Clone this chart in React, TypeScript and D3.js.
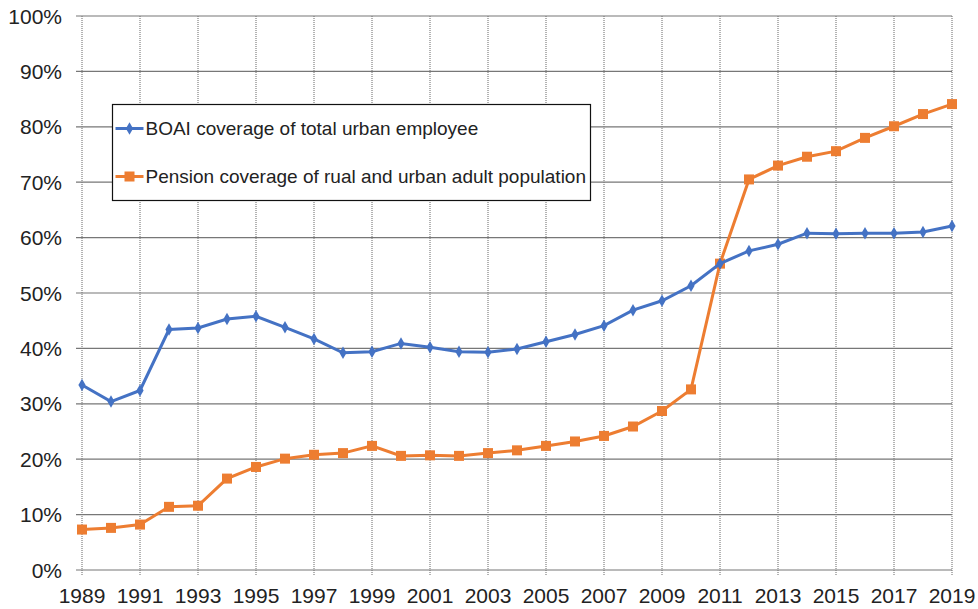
import React, { useEffect, useRef } from 'react';
import * as d3 from 'd3';

const years = d3.range(1989, 2020);
const boaiValues = [33.4, 30.4, 32.4, 43.4, 43.7, 45.3, 45.8, 43.8, 41.7, 39.2, 39.4, 40.9, 40.2, 39.4, 39.3, 39.9, 41.2, 42.5, 44.1, 46.9, 48.6, 51.3, 55.3, 57.6, 58.8, 60.8, 60.7, 60.8, 60.8, 61.0, 62.1];
const pensionValues = [7.3, 7.6, 8.2, 11.4, 11.6, 16.5, 18.6, 20.1, 20.8, 21.1, 22.4, 20.6, 20.7, 20.6, 21.1, 21.6, 22.4, 23.2, 24.2, 25.9, 28.7, 32.6, 55.3, 70.5, 73.0, 74.6, 75.6, 78.0, 80.1, 82.3, 84.1];
const yTicks = [0, 10, 20, 30, 40, 50, 60, 70, 80, 90, 100];
const xTicks = d3.range(1989, 2020, 2);
const seriesLabels = ['BOAI coverage of total urban employee', 'Pension coverage of rual and urban adult population'];

const BLUE = '#4472C4';
const ORANGE = '#ED7D31';
const FONT = '"Liberation Sans", Arial, sans-serif';

const App = () => {
  const svgRef = useRef<SVGSVGElement>(null);

  useEffect(() => {
    const width = 978, height = 609;
    const margin = { top: 16, right: 26, bottom: 39, left: 82 };
    const w = width - margin.left - margin.right;
    const h = height - margin.top - margin.bottom;

    const root = d3.select(svgRef.current);
    root.selectAll('*').remove();
    root.attr('width', width).attr('height', height);
    const svg = root.append('g').attr('transform', `translate(${margin.left},${margin.top})`);

    const x = d3.scaleLinear().domain([1989, 2019]).range([0, w]);
    const y = d3.scaleLinear().domain([0, 100]).range([h, 0]);

    // vertical grid (dotted)
    svg.append('g').selectAll('line').data(xTicks).enter().append('line')
      .attr('x1', d => x(d)).attr('x2', d => x(d)).attr('y1', 0).attr('y2', h + 5)
      .attr('stroke', '#666').attr('stroke-width', 1).attr('stroke-dasharray', '1,1');

    // horizontal grid
    svg.append('g').selectAll('line').data(yTicks).enter().append('line')
      .attr('x1', -6).attr('x2', w).attr('y1', d => y(d)).attr('y2', d => y(d))
      .attr('stroke', '#777').attr('stroke-width', 1.2);

    // y labels
    svg.append('g').selectAll('text').data(yTicks).enter().append('text')
      .attr('x', -20).attr('y', d => y(d)).attr('dy', '0.36em')
      .attr('text-anchor', 'end').attr('font-family', FONT).attr('font-size', 21).attr('fill', '#222')
      .text(d => `${d}%`);

    // x labels
    svg.append('g').selectAll('text').data(xTicks).enter().append('text')
      .attr('x', d => x(d)).attr('y', h + 33)
      .attr('text-anchor', 'middle').attr('font-family', FONT).attr('font-size', 21).attr('fill', '#222')
      .text(d => d);

    const line = d3.line<number>().x((_, i) => x(years[i])).y(d => y(d));

    // orange series
    svg.append('path').datum(pensionValues).attr('fill', 'none').attr('stroke', ORANGE)
      .attr('stroke-width', 3).attr('d', line);
    svg.append('g').selectAll('rect').data(pensionValues).enter().append('rect')
      .attr('x', (_, i) => x(years[i]) - 5).attr('y', d => y(d) - 5)
      .attr('width', 10).attr('height', 10).attr('fill', ORANGE);

    // blue series
    svg.append('path').datum(boaiValues).attr('fill', 'none').attr('stroke', BLUE)
      .attr('stroke-width', 3).attr('d', line);
    const diamond = d3.symbol().type(d3.symbolDiamond).size(45);
    svg.append('g').selectAll('path').data(boaiValues).enter().append('path')
      .attr('transform', (d, i) => `translate(${x(years[i])},${y(d)})`)
      .attr('d', diamond).attr('fill', BLUE);

    // legend
    const lg = root.append('g').attr('transform', 'translate(112.5,104.5)');
    lg.append('rect').attr('width', 478).attr('height', 96).attr('fill', 'white').attr('stroke', '#111').attr('stroke-width', 1.2);
    const items = [
      { label: seriesLabels[0], color: BLUE, cy: 24 },
      { label: seriesLabels[1], color: ORANGE, cy: 72 },
    ];
    items.forEach((it, k) => {
      lg.append('line').attr('x1', 3).attr('x2', 31).attr('y1', it.cy).attr('y2', it.cy)
        .attr('stroke', it.color).attr('stroke-width', 3);
      if (k === 0) {
        lg.append('path').attr('transform', `translate(17,${it.cy})`).attr('d', diamond).attr('fill', it.color);
      } else {
        lg.append('rect').attr('x', 12).attr('y', it.cy - 5).attr('width', 10).attr('height', 10).attr('fill', it.color);
      }
      lg.append('text').attr('x', 33).attr('y', it.cy).attr('dy', '0.36em')
        .attr('font-family', FONT).attr('font-size', 19).attr('fill', '#222').text(it.label);
    });
  }, []);

  return <svg ref={svgRef} style={{ position: 'absolute', left: 0, top: 0 }} />;
};

export default App;
